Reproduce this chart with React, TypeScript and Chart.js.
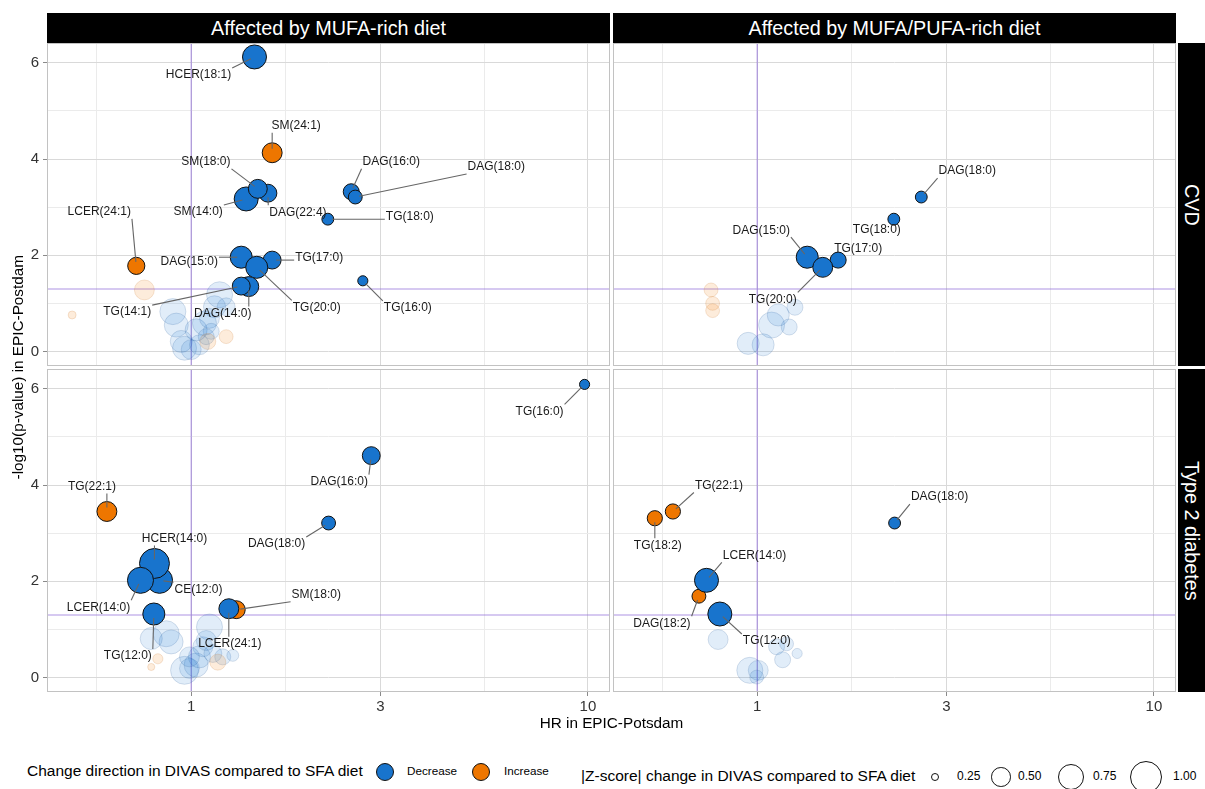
import React, { useEffect, useRef } from "react";
import { Chart, registerables } from "chart.js";

Chart.register(...registerables);

const FONT = '"Liberation Sans", Arial, Helvetica, sans-serif';
Chart.defaults.font.family = FONT;

// ---------------- axes & text ----------------
const X_MAJOR_TICKS = [1, 3, 10];
const Y_MAJOR_TICKS = [0, 2, 4, 6];
const Y_ALL_TICKS = [0, 1, 2, 3, 4, 5, 6];
const X_LIMITS = [0.433, 11.37];
const Y_LIMITS = [-0.3, 6.41];
const HR_REFERENCE = 1;
const P_THRESHOLD = 0.05;

const DIET_LABELS = ["Affected by MUFA-rich diet", "Affected by MUFA/PUFA-rich diet"];
const OUTCOME_LABELS = ["CVD", "Type 2 diabetes"];
const X_TITLE = "HR in EPIC-Potsdam";
const Y_TITLE = "-log10(p-value) in EPIC-Postdam";
const DIRECTION_TITLE = "Change direction in DIVAS compared to SFA diet";
const DIRECTION_LEVELS = ["Decrease", "Increase"];
const SIZE_TITLE = "|Z-score| change in DIVAS compared to SFA diet";
const SIZE_BREAKS = [0.25, 0.5, 0.75, 1.0];

// ---------------- data: MUFA-rich diet, CVD ----------------
const MUFA_CVD_NAME = [
  "", "", "", "", "", "", "", "", "", "", "", "", "", "",
  "", "", "", "",
  "HCER(18:1)", "SM(24:1)", "SM(14:0)", "DAG(22:4)", "SM(18:0)", "TG(18:0)", "DAG(16:0)", "DAG(18:0)",
  "LCER(24:1)", "DAG(15:0)", "TG(17:0)", "TG(20:0)", "DAG(14:0)", "TG(14:1)", "TG(16:0)",
];
const MUFA_CVD_HR = [
  0.899, 0.917, 0.944, 0.962, 1.0, 1.049, 1.029, 1.08, 1.112, 1.145, 1.179, 1.225, 1.123, 1.091,
  0.762, 0.501, 1.101, 1.225,
  1.444, 1.6, 1.376, 1.561, 1.472, 2.21, 2.532, 2.592,
  0.727, 1.337, 1.6, 1.463, 1.397, 1.337, 2.708,
];
const MUFA_CVD_LOGP = [
  0.83, 0.55, 0.21, 0.07, 0.04, 0.14, 0.45, 0.59, 0.69, 0.93, 1.18, 0.93, 0.42, 0.31,
  1.28, 0.76, 0.21, 0.31,
  6.12, 4.13, 3.17, 3.29, 3.38, 2.75, 3.32, 3.21,
  1.78, 1.96, 1.9, 1.75, 1.35, 1.36, 1.47,
];
const MUFA_CVD_Z = [
  0.73, 0.65, 0.58, 0.65, 0.51, 0.51, 0.58, 0.65, 0.51, 0.58, 0.73, 0.45, 0.4, 0.4,
  0.51, 0.25, 0.4, 0.35,
  0.65, 0.51, 0.65, 0.45, 0.48, 0.31, 0.4, 0.35,
  0.43, 0.58, 0.45, 0.58, 0.51, 0.45, 0.28,
];
const MUFA_CVD_DIR = [
  "Decrease", "Decrease", "Decrease", "Decrease", "Decrease", "Decrease", "Decrease", "Decrease", "Decrease", "Decrease", "Decrease", "Decrease", "Decrease", "Decrease",
  "Increase", "Increase", "Increase", "Increase",
  "Decrease", "Increase", "Decrease", "Decrease", "Decrease", "Decrease", "Decrease", "Decrease",
  "Increase", "Decrease", "Decrease", "Decrease", "Decrease", "Decrease", "Decrease",
];

// ---------------- data: MUFA/PUFA-rich diet, CVD ----------------
const MIXED_CVD_NAME = [
  "", "", "",
  "", "", "", "", "", "",
  "DAG(18:0)", "TG(18:0)", "DAG(15:0)", "TG(17:0)", "TG(20:0)",
];
const MIXED_CVD_HR = [0.765, 0.772, 0.772, 0.949, 1.035, 1.087, 1.13, 1.204, 1.245, 2.592, 2.21, 1.337, 1.6, 1.463];
const MIXED_CVD_LOGP = [1.28, 1.0, 0.85, 0.17, 0.14, 0.55, 0.76, 0.51, 0.92, 3.21, 2.75, 1.96, 1.9, 1.75];
const MIXED_CVD_Z = [0.35, 0.35, 0.35, 0.58, 0.58, 0.73, 0.58, 0.4, 0.4, 0.31, 0.31, 0.58, 0.4, 0.51];
const MIXED_CVD_DIR = [
  "Increase", "Increase", "Increase",
  "Decrease", "Decrease", "Decrease", "Decrease", "Decrease", "Decrease",
  "Decrease", "Decrease", "Decrease", "Decrease", "Decrease",
];

// ---------------- data: MUFA-rich diet, Type 2 diabetes ----------------
const MUFA_T2D_NAME = [
  "", "", "", "", "", "", "", "", "", "", "", "", "", "",
  "", "", "",
  "TG(22:1)", "DAG(16:0)", "DAG(18:0)", "TG(16:0)", "CE(12:0)", "HCER(14:0)", "LCER(14:0)", "TG(12:0)", "SM(18:0)", "LCER(24:1)",
];
const MUFA_T2D_HR = [
  0.865, 0.89, 0.793, 0.962, 0.99, 1.029, 1.049, 1.07, 1.112, 1.091, 1.134, 1.201, 1.273, 0.99,
  0.793, 0.824, 1.167,
  0.613, 2.844, 2.22, 9.81, 0.832, 0.808, 0.745, 0.805, 1.299, 1.244,
];
const MUFA_T2D_LOGP = [
  0.91, 0.74, 0.81, 0.15, 0.19, 0.26, 0.43, 0.64, 1.05, 0.77, 0.5, 0.43, 0.46, 0.43,
  0.22, 0.39, 0.32,
  3.45, 4.61, 3.21, 6.09, 2.02, 2.37, 2.02, 1.32, 1.41, 1.43,
];
const MUFA_T2D_Z = [
  0.73, 0.65, 0.58, 0.81, 0.51, 0.65, 0.58, 0.51, 0.73, 0.51, 0.45, 0.4, 0.31, 0.51,
  0.24, 0.28, 0.4,
  0.51, 0.45, 0.35, 0.28, 0.73, 0.9, 0.73, 0.58, 0.45, 0.51,
];
const MUFA_T2D_DIR = [
  "Decrease", "Decrease", "Decrease", "Decrease", "Decrease", "Decrease", "Decrease", "Decrease", "Decrease", "Decrease", "Decrease", "Decrease", "Decrease", "Decrease",
  "Increase", "Increase", "Increase",
  "Increase", "Decrease", "Decrease", "Decrease", "Decrease", "Decrease", "Decrease", "Decrease", "Increase", "Decrease",
];

// ---------------- data: MUFA/PUFA-rich diet, Type 2 diabetes ----------------
const MIXED_T2D_NAME = [
  "", "", "", "", "", "", "", "",
  "TG(22:1)", "TG(18:2)", "DAG(18:0)", "DAG(18:2)", "LCER(14:0)", "TG(12:0)",
];
const MIXED_T2D_HR = [0.797, 0.958, 1.006, 0.997, 1.119, 1.159, 1.186, 1.261, 0.613, 0.552, 2.22, 0.713, 0.745, 0.805];
const MIXED_T2D_LOGP = [0.79, 0.15, 0.15, 0.01, 0.64, 0.37, 0.7, 0.5, 3.45, 3.31, 3.21, 1.69, 2.02, 1.32];
const MIXED_T2D_Z = [0.51, 0.73, 0.51, 0.35, 0.4, 0.4, 0.35, 0.28, 0.38, 0.38, 0.31, 0.35, 0.65, 0.65];
const MIXED_T2D_DIR = [
  "Decrease", "Decrease", "Decrease", "Decrease", "Decrease", "Decrease", "Decrease", "Decrease",
  "Increase", "Increase", "Decrease", "Increase", "Decrease", "Decrease",
];

// ---------------- label placement (pixel offsets from the point, layout only) ----------------
const MUFA_CVD_LABEL_OFFSET: Record<string, [number, number]> = {
  "HCER(18:1)": [-56, 18], "SM(24:1)": [24, -27], "SM(18:0)": [-52, -27], "SM(14:0)": [-48, 13],
  "DAG(22:4)": [30, 19], "TG(18:0)": [82, -2], "DAG(16:0)": [40, -30], "DAG(18:0)": [141, -30],
  "LCER(24:1)": [-37, -54], "DAG(15:0)": [-52, 4], "TG(17:0)": [47, -2], "TG(20:0)": [60, 40],
  "TG(14:1)": [-114, 26], "DAG(14:0)": [-26, 27], "TG(16:0)": [45, 27],
};
const MIXED_CVD_LABEL_OFFSET: Record<string, [number, number]> = {
  "DAG(18:0)": [46, -26], "TG(18:0)": [-17, 11], "DAG(15:0)": [-46, -27], "TG(17:0)": [20, -11], "TG(20:0)": [-50, 32],
};
const MUFA_T2D_LABEL_OFFSET: Record<string, [number, number]> = {
  "TG(22:1)": [-15, -25], "HCER(14:0)": [20, -25], "CE(12:0)": [39, 9], "LCER(14:0)": [-42, 27],
  "TG(12:0)": [-26, 42], "SM(18:0)": [80, -15], "LCER(24:1)": [1, 35], "DAG(18:0)": [-52, 21],
  "DAG(16:0)": [-32, 26], "TG(16:0)": [-45, 27],
};
const MIXED_T2D_LABEL_OFFSET: Record<string, [number, number]> = {
  "TG(22:1)": [46, -26], "TG(18:2)": [3, 27], "LCER(14:0)": [48, -25], "DAG(18:2)": [-37, 27],
  "TG(12:0)": [47, 27], "DAG(18:0)": [45, -26],
};

// ---------------- styling helpers ----------------
const BLUE = "#1874CD";
const ORANGE = "#EE7600";
const radiusFor = (z: number) => Math.sqrt(Math.max(320 * (z - 0.2), 3));
const SIG_LEVEL = -Math.log10(P_THRESHOLD);

type PanelData = {
  name: string[];
  hr: number[];
  logp: number[];
  z: number[];
  dir: string[];
  offsets: Record<string, [number, number]>;
};

const PANELS: PanelData[][] = [
  [
    { name: MUFA_CVD_NAME, hr: MUFA_CVD_HR, logp: MUFA_CVD_LOGP, z: MUFA_CVD_Z, dir: MUFA_CVD_DIR, offsets: MUFA_CVD_LABEL_OFFSET },
    { name: MIXED_CVD_NAME, hr: MIXED_CVD_HR, logp: MIXED_CVD_LOGP, z: MIXED_CVD_Z, dir: MIXED_CVD_DIR, offsets: MIXED_CVD_LABEL_OFFSET },
  ],
  [
    { name: MUFA_T2D_NAME, hr: MUFA_T2D_HR, logp: MUFA_T2D_LOGP, z: MUFA_T2D_Z, dir: MUFA_T2D_DIR, offsets: MUFA_T2D_LABEL_OFFSET },
    { name: MIXED_T2D_NAME, hr: MIXED_T2D_HR, logp: MIXED_T2D_LOGP, z: MIXED_T2D_Z, dir: MIXED_T2D_DIR, offsets: MIXED_T2D_LABEL_OFFSET },
  ],
];

const xAllTicks = () => {
  const out: number[] = [X_MAJOR_TICKS[0] * Math.sqrt(X_MAJOR_TICKS[0] / X_MAJOR_TICKS[1])];
  X_MAJOR_TICKS.forEach((v, i) => {
    out.push(v);
    if (i < X_MAJOR_TICKS.length - 1) out.push(Math.sqrt(v * X_MAJOR_TICKS[i + 1]));
  });
  return out;
};

const refLinesPlugin = {
  id: "refLines",
  beforeDatasetsDraw(chart: any) {
    const { ctx, chartArea } = chart;
    const x = chart.scales.x.getPixelForValue(HR_REFERENCE);
    const y = chart.scales.y.getPixelForValue(SIG_LEVEL);
    ctx.save();
    ctx.strokeStyle = "rgba(147,112,219,0.75)";
    ctx.lineWidth = 1.1;
    ctx.beginPath();
    ctx.moveTo(x, chartArea.top);
    ctx.lineTo(x, chartArea.bottom);
    ctx.moveTo(chartArea.left, y);
    ctx.lineTo(chartArea.right, y);
    ctx.stroke();
    ctx.restore();
  },
};

const borderPlugin = {
  id: "panelBorder",
  afterDraw(chart: any) {
    const { ctx, chartArea } = chart;
    ctx.save();
    ctx.strokeStyle = "#c2c2c2";
    ctx.lineWidth = 1;
    ctx.strokeRect(chartArea.left + 0.5, chartArea.top + 0.5, chartArea.width - 1, chartArea.height - 1);
    ctx.restore();
  },
};

const makeLabelPlugin = (panel: PanelData) => ({
  id: "repelLabels",
  afterDatasetsDraw(chart: any) {
    const { ctx, chartArea } = chart;
    const meta = chart.getDatasetMeta(0);
    ctx.save();
    ctx.beginPath();
    ctx.rect(chartArea.left, chartArea.top, chartArea.width, chartArea.height);
    ctx.clip();
    ctx.font = `12px ${FONT}`;
    ctx.textAlign = "center";
    ctx.textBaseline = "middle";
    meta.data.forEach((el: any, i: number) => {
      const name = panel.name[i];
      if (!name) return;
      const off = panel.offsets[name] || [0, -20];
      const px = el.x;
      const py = el.y;
      const cx = px + off[0];
      const cy = py + off[1];
      const w = ctx.measureText(name).width;
      const h = 12;
      const x0 = cx - w / 2 - 1;
      const x1 = cx + w / 2 + 1;
      const y0 = cy - h / 2 - 1;
      const y1 = cy + h / 2 + 1;
      const nx = Math.min(Math.max(px, x0), x1);
      const ny = Math.min(Math.max(py, y0), y1);
      const d = Math.hypot(nx - px, ny - py);
      if (d > 7) {
        ctx.strokeStyle = "#666666";
        ctx.lineWidth = 1.1;
        ctx.beginPath();
        ctx.moveTo(px + ((nx - px) / d) * 4, py + ((ny - py) / d) * 4);
        ctx.lineTo(nx, ny);
        ctx.stroke();
      }
      ctx.fillStyle = "#1a1a1a";
      ctx.fillText(name, cx, cy);
    });
    ctx.restore();
  },
});

type PanelProps = {
  panel: PanelData;
  left: number;
  top: number;
  width: number;
  height: number;
  showY: boolean;
  showX: boolean;
};

const X_AXIS_H = 28;
const Y_AXIS_W = 47;

function Panel({ panel, left, top, width, height, showY, showX }: PanelProps) {
  const ref = useRef<HTMLCanvasElement>(null);
  useEffect(() => {
    const isSig = (i: number) => panel.logp[i] > SIG_LEVEL;
    const xTicks = xAllTicks();
    const chart = new Chart(ref.current as HTMLCanvasElement, {
      type: "scatter",
      data: {
        datasets: [
          {
            data: panel.hr.map((h, i) => ({ x: h, y: panel.logp[i] })),
            pointRadius: (c: any) => radiusFor(panel.z[c.dataIndex]),
            pointHoverRadius: (c: any) => radiusFor(panel.z[c.dataIndex]),
            backgroundColor: (c: any) => {
              const i = c.dataIndex;
              const inc = panel.dir[i] === "Increase";
              if (isSig(i)) return inc ? ORANGE : BLUE;
              return inc ? "rgba(238,118,0,0.14)" : "rgba(24,116,205,0.13)";
            },
            borderColor: (c: any) => {
              const i = c.dataIndex;
              if (isSig(i)) return "#111111";
              return panel.dir[i] === "Increase" ? "rgba(200,110,30,0.18)" : "rgba(40,90,150,0.18)";
            },
            borderWidth: 1,
          } as any,
        ],
      },
      options: {
        responsive: false,
        animation: false,
        devicePixelRatio: 1,
        events: [],
        layout: { padding: 0, autoPadding: false },
        plugins: { legend: { display: false }, tooltip: { enabled: false } },
        scales: {
          x: {
            type: "logarithmic",
            min: X_LIMITS[0],
            max: X_LIMITS[1],
            afterBuildTicks: (s: any) => {
              s.ticks = xTicks.map((v) => ({ value: v }));
            },
            afterFit: (s: any) => {
              s.height = showX ? X_AXIS_H : 0;
              s.paddingLeft = 0;
              s.paddingRight = 0;
              s.paddingTop = 0;
              s.paddingBottom = 0;
            },
            ticks: {
              display: showX,
              autoSkip: false,
              maxRotation: 0,
              padding: 2,
              color: "#333333",
              font: { size: 15, family: FONT },
              callback: (v: any) => (X_MAJOR_TICKS.includes(Number(v)) ? String(v) : ""),
            },
            grid: {
              color: (c: any) => (c.tick && X_MAJOR_TICKS.includes(c.tick.value) ? "#d9d9d9" : "#ebebeb"),
              lineWidth: 1,
              drawTicks: showX,
              tickLength: 4,
              tickColor: (c: any) => (c.tick && X_MAJOR_TICKS.includes(c.tick.value) ? "#8a8a8a" : "rgba(0,0,0,0)"),
            },
            border: { display: false },
          } as any,
          y: {
            type: "linear",
            min: Y_LIMITS[0],
            max: Y_LIMITS[1],
            afterBuildTicks: (s: any) => {
              s.ticks = Y_ALL_TICKS.map((v) => ({ value: v }));
            },
            afterFit: (s: any) => {
              s.width = showY ? Y_AXIS_W : 0;
              s.paddingLeft = 0;
              s.paddingRight = 0;
              s.paddingTop = 0;
              s.paddingBottom = 0;
            },
            ticks: {
              display: showY,
              autoSkip: false,
              padding: 4,
              color: "#333333",
              font: { size: 15, family: FONT },
              callback: (v: any) => (Y_MAJOR_TICKS.includes(Number(v)) ? String(v) : ""),
            },
            grid: {
              color: (c: any) => (c.tick && Y_MAJOR_TICKS.includes(c.tick.value) ? "#d9d9d9" : "#ebebeb"),
              lineWidth: 1,
              drawTicks: showY,
              tickLength: 4,
              tickColor: (c: any) => (c.tick && Y_MAJOR_TICKS.includes(c.tick.value) ? "#8a8a8a" : "rgba(0,0,0,0)"),
            },
            border: { display: false },
          } as any,
        },
      } as any,
      plugins: [refLinesPlugin, makeLabelPlugin(panel), borderPlugin],
    });
    return () => chart.destroy();
  }, []);
  return (
    <canvas
      ref={ref}
      width={width}
      height={height}
      style={{ position: "absolute", left, top, width, height }}
    />
  );
}

const PANEL_W = 563;
const PANEL_H = 323;
const COL_X = [47, 613];
const ROW_Y = [43, 369];

export default function App() {
  return (
    <div
      style={{
        position: "absolute",
        left: 0,
        top: 0,
        width: 1205,
        height: 789,
        overflow: "hidden",
        background: "#ffffff",
        fontFamily: FONT,
      }}
    >
      {PANELS.map((row, r) =>
        row.map((panel, c) => {
          const showY = c === 0;
          const showX = r === 1;
          const left = showY ? COL_X[c] - Y_AXIS_W : COL_X[c];
          const width = PANEL_W + (showY ? Y_AXIS_W : 0);
          const height = PANEL_H + (showX ? X_AXIS_H : 0);
          return (
            <Panel
              key={`${r}-${c}`}
              panel={panel}
              left={left}
              top={ROW_Y[r]}
              width={width}
              height={height}
              showY={showY}
              showX={showX}
            />
          );
        })
      )}

      {DIET_LABELS.map((t, c) => (
        <div
          key={t}
          style={{
            position: "absolute",
            left: COL_X[c],
            top: 13,
            width: PANEL_W,
            height: 30,
            background: "#000",
            color: "#fff",
            fontSize: 19.8,
            display: "flex",
            alignItems: "center",
            justifyContent: "center",
          }}
        >
          {t}
        </div>
      ))}

      {OUTCOME_LABELS.map((t, r) => (
        <div
          key={t}
          style={{
            position: "absolute",
            left: 1178,
            top: ROW_Y[r],
            width: 30,
            height: PANEL_H,
            background: "#000",
            color: "#fff",
            fontSize: 19.8,
            display: "flex",
            alignItems: "center",
            justifyContent: "center",
          }}
        >
          <span style={{ writingMode: "vertical-rl", whiteSpace: "nowrap", marginRight: 3 }}>{t}</span>
        </div>
      ))}

      <div
        style={{
          position: "absolute",
          left: 6,
          top: ROW_Y[0],
          width: 24,
          height: ROW_Y[1] + PANEL_H - ROW_Y[0],
          display: "flex",
          alignItems: "center",
          justifyContent: "center",
          fontSize: 15.3,
          color: "#000",
        }}
      >
        <span style={{ writingMode: "vertical-rl", transform: "rotate(180deg)", whiteSpace: "nowrap" }}>{Y_TITLE}</span>
      </div>

      <div
        style={{
          position: "absolute",
          left: COL_X[0],
          top: 714,
          width: COL_X[1] + PANEL_W - COL_X[0],
          textAlign: "center",
          fontSize: 15.3,
          color: "#000",
          whiteSpace: "nowrap",
        }}
      >
        {X_TITLE}
      </div>

      {/* direction legend */}
      <div style={{ position: "absolute", left: 27, top: 762, fontSize: 15.5, color: "#000", whiteSpace: "nowrap" }}>
        {DIRECTION_TITLE}
      </div>
      {DIRECTION_LEVELS.map((lvl, i) => {
        const cx = [385, 481][i];
        const tx = [407, 504][i];
        return (
          <React.Fragment key={lvl}>
            <div
              style={{
                position: "absolute",
                left: cx - 9,
                top: 772 - 9,
                width: 18,
                height: 18,
                boxSizing: "border-box",
                borderRadius: "50%",
                border: "1px solid #111",
                background: i === 0 ? BLUE : ORANGE,
              }}
            />
            <div style={{ position: "absolute", left: tx, top: 764, fontSize: 11.7, color: "#000", whiteSpace: "nowrap" }}>
              {lvl}
            </div>
          </React.Fragment>
        );
      })}

      {/* size legend */}
      <div style={{ position: "absolute", left: 581, top: 767, fontSize: 15.5, color: "#000", whiteSpace: "nowrap" }}>
        {SIZE_TITLE}
      </div>
      {SIZE_BREAKS.map((b, i) => {
        const cx = [935, 1001, 1071, 1146][i];
        const tx = [957, 1018, 1093, 1173][i];
        const r = radiusFor(b);
        return (
          <React.Fragment key={b}>
            <div
              style={{
                position: "absolute",
                left: cx - r,
                top: 777 - r,
                width: 2 * r,
                height: 2 * r,
                boxSizing: "border-box",
                borderRadius: "50%",
                border: "1px solid #111",
                background: "#fff",
              }}
            />
            <div style={{ position: "absolute", left: tx, top: 769, fontSize: 12, color: "#000", whiteSpace: "nowrap" }}>
              {b.toFixed(2)}
            </div>
          </React.Fragment>
        );
      })}
    </div>
  );
}
